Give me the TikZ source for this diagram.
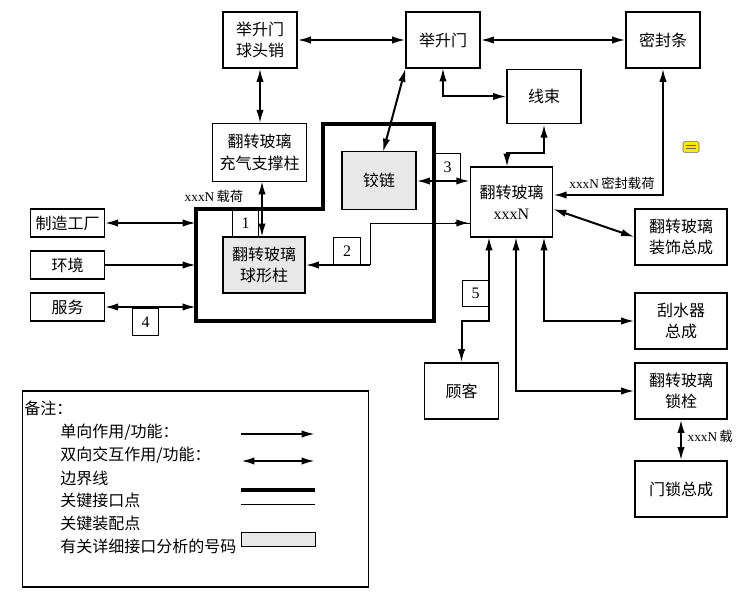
\documentclass[tikz,border=0pt]{standalone}
\usepackage{fontspec}
\setmainfont{Liberation Serif}
\newfontfamily\cjk{Noto Sans CJK SC}
\usetikzlibrary{arrows.meta}
\tikzset{
 bx/.style={draw,line width=0.8pt,inner sep=0pt,align=center,font=\cjk\fontsize{12}{16}\selectfont},
 gbx/.style={bx,fill=gray!18},
 num/.style={draw,line width=0.6pt,inner sep=0pt,minimum width=20pt,minimum height=20pt,font=\fontsize{12}{12}\selectfont},
 ar/.style={line width=1.5pt,-{Latex[length=10pt,width=5.5pt]}},
 dar/.style={line width=1.5pt,{Latex[length=10pt,width=5.5pt]}-{Latex[length=10pt,width=5.5pt]}},
 lbl/.style={font=\fontsize{10}{12}\selectfont,inner sep=1pt},
 lt/.style={font=\cjk\fontsize{12}{14}\selectfont,anchor=west,inner sep=0pt}
}
\begin{document}
\begin{tikzpicture}[x=0.75pt,y=-0.75pt]
\useasboundingbox (0,0) rectangle (742,599);
% boundary
\draw[line width=2.4pt] (196,209) -- (323,209) -- (323,124) -- (434,124) -- (434,321) -- (196,321) -- cycle;
% boxes
\node[bx,minimum width=55.5pt,minimum height=42pt] (jqsm) at (260,40) {举升门\\球头销};
\node[bx,minimum width=55.5pt,minimum height=42pt] (jsm) at (443,40) {举升门};
\node[bx,minimum width=55.5pt,minimum height=42pt] (mfs) at (663,40) {密封条};
\node[bx,minimum width=55.5pt,minimum height=41pt] (xs) at (544,96.5) {线束};
\node[bx,minimum width=70pt,minimum height=43pt] (cqz) at (259.5,152.5) {翻转玻璃\\充气支撑柱};
\node[gbx,minimum width=55.5pt,minimum height=43pt] (jl) at (379,180.5) {铰链};
\node[bx,minimum width=62pt,minimum height=52.5pt] (main) at (511.5,202) {翻转玻璃\\{\rmfamily xxxN}};
\node[bx,minimum width=55pt,minimum height=21pt] (zz) at (67.5,223) {制造工厂};
\node[bx,minimum width=55pt,minimum height=21pt] (hj) at (67.5,265) {环境};
\node[bx,minimum width=55pt,minimum height=21pt] (fw) at (67.5,307) {服务};
\node[gbx,minimum width=61.5pt,minimum height=42pt] (qxz) at (264,265) {翻转玻璃\\球形柱};
\node[bx,minimum width=69pt,minimum height=42pt] (zs) at (681,237) {翻转玻璃\\装饰总成};
\node[bx,minimum width=69pt,minimum height=42pt] (gsq) at (681,321) {刮水器\\总成};
\node[bx,minimum width=55pt,minimum height=42pt] (gk) at (461.5,391) {顾客};
\node[bx,minimum width=69pt,minimum height=42pt] (sj) at (681,391) {翻转玻璃\\锁栓};
\node[bx,minimum width=69pt,minimum height=42pt] (ms) at (681,489) {门锁总成};
% number boxes
\node[num] (n1) at (245.5,223) {1};
\node[num] (n2) at (347,251) {2};
\node[num] (n3) at (447.5,167) {3};
\node[num] (n4) at (145.5,322) {4};
\node[num] (n5) at (475.5,293.5) {5};
% coordinates
\coordinate (b1) at (196,223);
\coordinate (b2) at (196,265);
\coordinate (b3) at (196,307);
% connectors
\draw[dar] (zz.east) -- (b1);
\draw[ar] (hj.east) -- (b2);
\draw[dar] (fw.east) -- (b3);
\draw[dar] (jqsm.south) -- (jqsm.south |- cqz.north);
\draw[dar] (jqsm.east) -- (jsm.west);
\draw[dar] (jsm.east) -- (mfs.west);
\draw[dar] (jsm.south west) -- (383,152);
\draw[dar] (443,68) |- (xs.west);
\draw[dar] (xs.south) -- (544,153) -| (507,167);
\draw[dar] (main.east |- 0,195) -| (mfs.south);
\node[lbl,font=\cjk\fontsize{10}{11}\selectfont] at (612,183) {{\rmfamily xxxN}\,密封载荷};
\draw[dar] (main.west |- 0,181) -- (jl.east |- 0,181);
\draw[line width=0.7pt] (main.west |- 0,223) -- (370,223) -- (370,265);
\draw[line width=1.5pt,{Latex[length=10pt,width=5.5pt]}-] (main.west |- 0,223) -- (455,223);
\draw[ar] (370,265) -- (qxz.east);
\draw[dar] (262,237) -- (262,181);
\node[lbl,font=\cjk\fontsize{10}{11}\selectfont] at (214,196) {{\rmfamily xxxN}\,载荷};
\draw[dar] (553,209) -- (zs.west);
\draw[dar] (544,237) |- (gsq.west);
\draw[dar] (516,237) |- (sj.west);
\draw[dar] (489,237) -- (489,321) -| (gk.north);
\draw[dar] (sj.south) -- (ms.north);
\node[lbl,font=\cjk\fontsize{10}{11}\selectfont,anchor=west] at (686,436) {{\rmfamily xxxN}\,载};
% comment icon
\node[draw=black!60,fill=yellow!90!orange,rounded corners=1pt,minimum width=12pt,minimum height=8pt,inner sep=0pt] (ic) at (691,147) {};
\draw[black!60,line width=0.3pt] (686,145)--(696,145) (686,148)--(696,148);
% legend
\node[draw,line width=0.8pt,minimum width=260pt,minimum height=147pt,inner sep=0pt] (leg) at (195.5,489) {};
\node[lt] (l0) at (24,408) {备注：};
\node[lt] (l1) at (60,432) {单向作用/功能：};
\node[lt] (l2) at (60,455) {双向交互作用/功能：};
\node[lt] (l3) at (60,478) {边界线};
\node[lt] (l4) at (60,500) {关键接口点};
\node[lt] (l5) at (60,523) {关键装配点};
\node[lt] (l6) at (60,546) {有关详细接口分析的号码};
\coordinate (a1) at (241,434); \coordinate (a2) at (315,434);
\coordinate (c1) at (241,461); \coordinate (c2) at (315,461);
\draw[ar] (a1) -- (a2);
\draw[dar] (c1) -- (c2);
\draw[line width=2.4pt] (241,490) -- (315,490);
\draw[line width=0.7pt] (241,504) -- (315,504);
\node[draw,fill=gray!18,line width=0.6pt,minimum width=55.5pt,minimum height=10.5pt,inner sep=0pt] (gr) at (278,539) {};
\end{tikzpicture}
\end{document}
